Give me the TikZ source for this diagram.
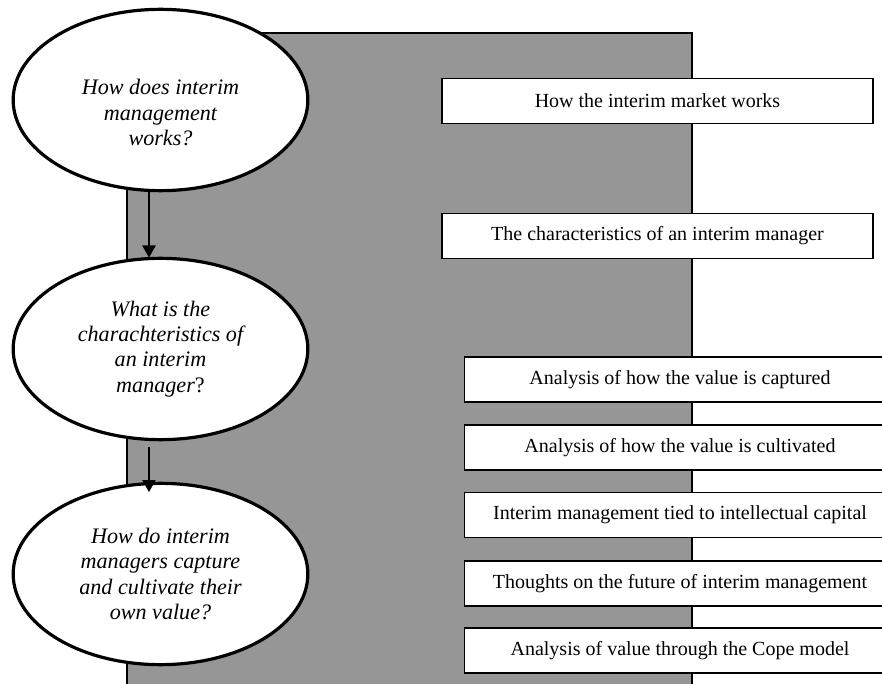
\documentclass[tikz,border=0pt]{standalone}
\usepackage{fontspec}
\setmainfont{Liberation Serif}
\usetikzlibrary{shapes.geometric,arrows.meta}
\definecolor{panelgray}{RGB}{150,150,150}
\tikzset{
  question/.style={ellipse, draw=black, line width=2.4pt, fill=white,
    minimum width=221pt, minimum height=136pt, inner sep=0pt,
    align=center, font=\fontsize{16.6}{19}\selectfont\itshape},
  topicbox/.style={rectangle, draw=black, line width=1.2pt, fill=white,
    minimum width=323pt, minimum height=34pt, inner sep=0pt,
    font=\fontsize{15}{18}\selectfont},
  flow/.style={line width=0.9pt, -{Triangle[length=9pt,width=10pt]}}
}
\begin{document}
\begin{tikzpicture}[x=0.75pt,y=-0.75pt]
  \useasboundingbox (0,0) rectangle (882,684);
  \clip (0,0) rectangle (882,684);

  % grey backdrop panel, running off the bottom edge
  \draw[fill=panelgray, line width=0.8pt] (127,33) rectangle (692,700);

  % topic boxes
  \node[topicbox] (t1) at (657.5,101) {How the interim market works};
  \node[topicbox] (t2) at (657.5,236) {The characteristics of an interim manager};
  \node[topicbox] (t3) at (680,379.5) {Analysis of how the value is captured};
  \node[topicbox] (t4) at (680,447.5) {Analysis of how the value is cultivated};
  \node[topicbox] (t5) at (680,515) {Interim management tied to intellectual capital};
  \node[topicbox] (t6) at (680,583.5) {Thoughts on the future of interim management};
  \node[topicbox] (t7) at (680,650.5) {Analysis of value through the Cope model};

  % research questions
  \node[question, label={[font=\fontsize{16.6}{19}\selectfont\itshape, align=center, yshift=-9.5pt]center:How does interim\\management\\works?}] (q1) at (160.5,100) {};
  \node[question] (q2) at (160.5,349) {What is the\\charachteristics of\\an interim\\manager\textup{?}};
  \node[question] (q3) at (160.5,574) {How do interim\\managers capture\\and cultivate their\\own value?};

  % arrows between the questions
  \coordinate (a1s) at (149,190);
  \coordinate (a1e) at (149,257.5);
  \coordinate (a2s) at (149,447);
  \coordinate (a2e) at (149,492);
  \draw[flow] (a1s) -- (a1e);
  \draw[flow] (a2s) -- (a2e);
\end{tikzpicture}
\end{document}
